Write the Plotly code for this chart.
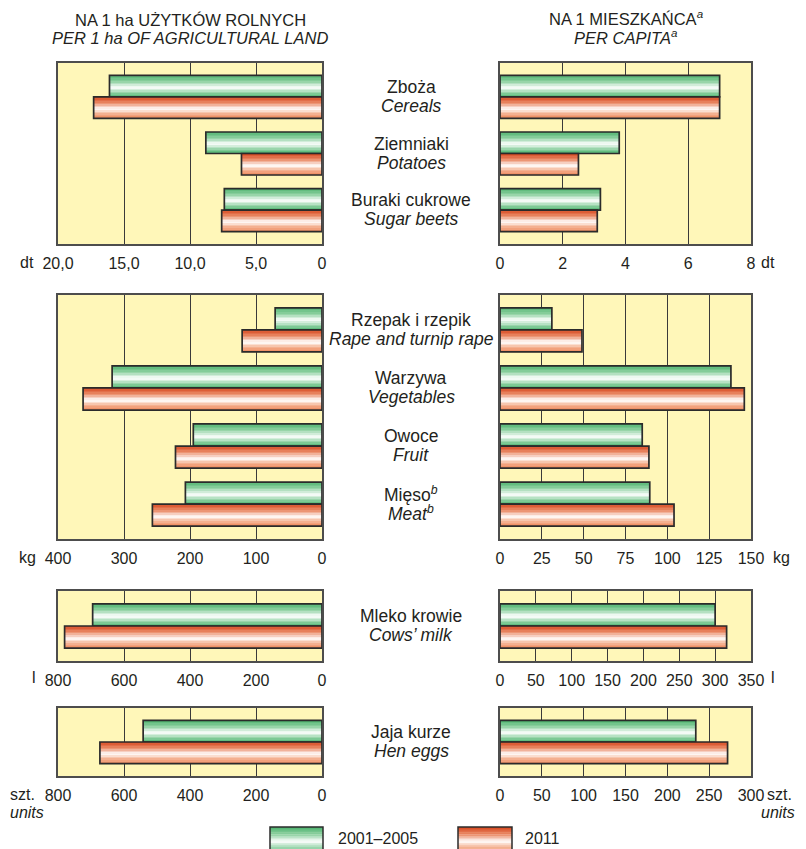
import plotly.graph_objects as go

# the page body adds an 8 px margin, so the figure is drawn 8 px smaller
# and all pixel positions below are given in window pixels
W, H = 806, 849
OFF = 8
FW, FH = W - OFF, H - OFF

SERIES = ["2001–2005", "2011"]

# --- data ---------------------------------------------------------------
CROPS_PL = ["Zboża", "Ziemniaki", "Buraki cukrowe"]
CROPS_EN = ["Cereals", "Potatoes", "Sugar beets"]
CROPS_HA_0105 = [16.1, 8.8, 7.4]
CROPS_HA_2011 = [17.3, 6.1, 7.6]
CROPS_CAP_0105 = [7.0, 3.8, 3.2]
CROPS_CAP_2011 = [7.0, 2.5, 3.1]

OTHER_PL = ["Rzepak i rzepik", "Warzywa", "Owoce", "Mięso<sup><i>b</i></sup>"]
OTHER_EN = ["Rape and turnip rape", "Vegetables", "Fruit", "Meat<sup>b</sup>"]
OTHER_HA_0105 = [71, 318, 195, 207]
OTHER_HA_2011 = [121, 362, 222, 257]
OTHER_CAP_0105 = [31, 138, 85, 89.5]
OTHER_CAP_2011 = [49, 146, 89, 104]

MILK_PL = ["Mleko krowie"]
MILK_EN = ["Cows’ milk"]
MILK_HA_0105 = [695]
MILK_HA_2011 = [780]
MILK_CAP_0105 = [300]
MILK_CAP_2011 = [316]

EGGS_PL = ["Jaja kurze"]
EGGS_EN = ["Hen eggs"]
EGGS_HA_0105 = [542]
EGGS_HA_2011 = [673]
EGGS_CAP_0105 = [234]
EGGS_CAP_2011 = [272]

TICKS_HA_DT = [0, 5, 10, 15, 20]
TICKTEXT_HA_DT = ["0", "5,0", "10,0", "15,0", "20,0"]
TICKS_CAP_DT = [0, 2, 4, 6, 8]
TICKS_HA_KG = [0, 100, 200, 300, 400]
TICKS_CAP_KG = [0, 25, 50, 75, 100, 125, 150]
TICKS_HA_L = [0, 200, 400, 600, 800]
TICKS_CAP_L = [0, 50, 100, 150, 200, 250, 300, 350]
TICKS_HA_SZT = [0, 200, 400, 600, 800]
TICKS_CAP_SZT = [0, 50, 100, 150, 200, 250, 300]

# --- style --------------------------------------------------------------
FONT = "Liberation Sans, Arial, Helvetica, sans-serif"
TEXT = "#231f20"
BG = "#fff7b9"
FRAME = "#4d4d4d"
GRID = "#3a3a3a"
OUTLINE = "#2b2b2b"

GREEN_STOPS = [(0.0, "#4ab26b"), (0.3, "#8fd1a2"), (0.58, "#ffffff"),
               (0.8, "#a2d9b2"), (1.0, "#53b774")]
RED_STOPS = [(0.0, "#d6431b"), (0.3, "#ea8c68"), (0.58, "#ffffff"),
             (0.8, "#f5b596"), (1.0, "#ee8a5e")]

N_STRIPES = 14
BAR_W = 0.38
PAD = 0.6


def _hex(c):
    c = c.lstrip("#")
    return [int(c[i:i + 2], 16) for i in (0, 2, 4)]


def grad(stops, t):
    for (t0, c0), (t1, c1) in zip(stops, stops[1:]):
        if t <= t1:
            f = (t - t0) / (t1 - t0)
            a, b = _hex(c0), _hex(c1)
            return "rgb({},{},{})".format(*[round(a[i] + (b[i] - a[i]) * f) for i in range(3)])
    return stops[-1][1]


def px(x):
    return (x - OFF) / FW


def py(y):
    return 1 - (y - OFF) / FH


LEFT_X = (58, 322)
RIGHT_X = (500, 751)

panels = [
    dict(top=63, bottom=244, pl=CROPS_PL, en=CROPS_EN,
         left=(CROPS_HA_0105, CROPS_HA_2011), right=(CROPS_CAP_0105, CROPS_CAP_2011),
         lt=TICKS_HA_DT, ltt=TICKTEXT_HA_DT, rt=TICKS_CAP_DT),
    dict(top=295, bottom=539, pl=OTHER_PL, en=OTHER_EN,
         left=(OTHER_HA_0105, OTHER_HA_2011), right=(OTHER_CAP_0105, OTHER_CAP_2011),
         lt=TICKS_HA_KG, ltt=None, rt=TICKS_CAP_KG),
    dict(top=591, bottom=661, pl=MILK_PL, en=MILK_EN,
         left=(MILK_HA_0105, MILK_HA_2011), right=(MILK_CAP_0105, MILK_CAP_2011),
         lt=TICKS_HA_L, ltt=None, rt=TICKS_CAP_L),
    dict(top=708, bottom=776, pl=EGGS_PL, en=EGGS_EN,
         left=(EGGS_HA_0105, EGGS_HA_2011), right=(EGGS_CAP_0105, EGGS_CAP_2011),
         lt=TICKS_HA_SZT, ltt=None, rt=TICKS_CAP_SZT),
]

fig = go.Figure()
layout = {}
annotations = []


def add_bars(values, n, xa, ya, offset, stops):
    ys = list(range(n))
    step = BAR_W / N_STRIPES
    for k in range(N_STRIPES):
        fig.add_trace(go.Bar(
            x=values, y=ys, orientation="h", xaxis=xa, yaxis=ya,
            offset=offset + k * step, width=step * 1.2,
            marker=dict(color=grad(stops, (k + 0.5) / N_STRIPES), line=dict(width=0)),
            hoverinfo="skip", showlegend=False,
        ))
    fig.add_trace(go.Bar(
        x=values, y=ys, orientation="h", xaxis=xa, yaxis=ya,
        offset=offset, width=BAR_W,
        marker=dict(color="rgba(0,0,0,0)", line=dict(color=OUTLINE, width=1.7)),
        hoverinfo="skip", showlegend=False,
    ))


idx = 0
for p in panels:
    n = len(p["pl"])
    ydom = [py(p["bottom"]), py(p["top"])]
    for side in ("left", "right"):
        idx += 1
        xa = "x" if idx == 1 else f"x{idx}"
        ya = "y" if idx == 1 else f"y{idx}"
        ticks = p["lt"] if side == "left" else p["rt"]
        ticktext = p["ltt"] if (side == "left" and p["ltt"]) else [str(t) for t in ticks]
        xr = [ticks[-1], 0] if side == "left" else [0, ticks[-1]]
        xd = LEFT_X if side == "left" else RIGHT_X
        layout[xa.replace("x", "xaxis")] = dict(
            domain=[px(xd[0]), px(xd[1])], range=xr, anchor=ya, automargin=False,
            tickvals=ticks, ticktext=ticktext,
            showgrid=True, gridcolor=GRID, gridwidth=1,
            zeroline=False, showline=True, linecolor=FRAME, linewidth=1.5, mirror=True,
            ticks="outside", ticklen=4, tickcolor="rgba(0,0,0,0)",
            tickfont=dict(size=16, color=TEXT, family=FONT), fixedrange=True,
        )
        layout[ya.replace("y", "yaxis")] = dict(
            domain=ydom, range=[n - 1 + PAD, -PAD], anchor=xa, automargin=False,
            showgrid=False, zeroline=False, showticklabels=False,
            showline=True, linecolor=FRAME, linewidth=1.5, mirror=True, fixedrange=True,
        )
        a, b = p[side]
        add_bars(a, n, xa, ya, -BAR_W, GREEN_STOPS)
        add_bars(b, n, xa, ya, 0, RED_STOPS)

    # category labels in the middle column
    for i in range(n):
        for txt, shift in ((p["pl"][i], 10), (f"<i>{p['en'][i]}</i>", -9)):
            annotations.append(dict(
                xref="paper", yref=f"y{idx}", x=px(411), y=i, yshift=shift,
                text=txt, showarrow=False, xanchor="center", yanchor="middle",
                font=dict(size=17.5, color=TEXT, family=FONT),
            ))

fig.update_layout(**layout)


def note(x, y, text, xanchor="center", size=16):
    annotations.append(dict(
        xref="paper", yref="paper", x=px(x), y=py(y), text=text,
        showarrow=False, xanchor=xanchor, yanchor="middle",
        font=dict(size=size, color=TEXT, family=FONT),
    ))


# headers
note(190, 20, "NA 1 ha UŻYTKÓW ROLNYCH", size=16.5)
note(190, 38, "<i>PER 1 ha OF AGRICULTURAL LAND</i>", size=16.5)
note(626, 18, "NA 1 MIESZKAŃCA<sup><i>a</i></sup>", size=16.5)
note(626, 37, "<i>PER CAPITA<sup>a</sup></i>", size=16.5)

# units
note(36, 262, "dt", xanchor="right")
note(759, 262, "dt", xanchor="left")
note(38, 557, "kg", xanchor="right")
note(771, 557, "kg", xanchor="left")
note(38, 677, "l", xanchor="right")
note(769, 677, "l", xanchor="left")
note(8, 794, "szt.", xanchor="left")
note(8, 812, "<i>units</i>", xanchor="left")
note(765, 794, "szt.", xanchor="left")
note(797, 812, "<i>units</i>", xanchor="right")

# legend
shapes = []
for (x0, x1), stops, label, lx in [((270, 323), GREEN_STOPS, SERIES[0], 336),
                                   ((458, 512), RED_STOPS, SERIES[1], 523)]:
    top, bot = 827, 852
    step = (bot - top) / N_STRIPES
    for k in range(N_STRIPES):
        shapes.append(dict(type="rect", xref="paper", yref="paper",
                           x0=px(x0), x1=px(x1), y0=py(top + k * step), y1=py(top + (k + 1.2) * step),
                           fillcolor=grad(stops, (k + 0.5) / N_STRIPES), line=dict(width=0)))
    shapes.append(dict(type="rect", xref="paper", yref="paper",
                       x0=px(x0), x1=px(x1), y0=py(top), y1=py(bot),
                       fillcolor="rgba(0,0,0,0)", line=dict(color=OUTLINE, width=1.5)))
    note(lx, 838, label, xanchor="left")

fig.update_layout(
    width=FW, height=FH,
    margin=dict(l=0, r=0, t=0, b=0),
    paper_bgcolor="white", plot_bgcolor=BG,
    barmode="overlay", showlegend=False,
    annotations=annotations, shapes=shapes,
    font=dict(family=FONT, color=TEXT),
)

fig.write_html("out.html")
